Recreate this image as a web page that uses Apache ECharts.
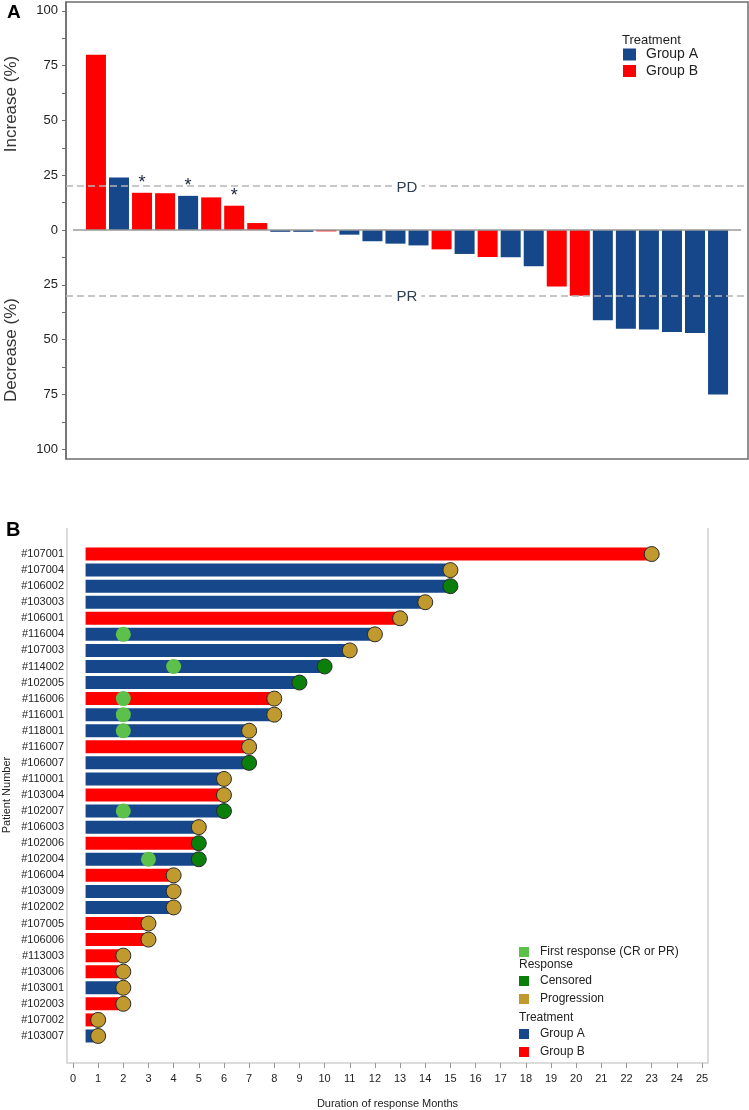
<!DOCTYPE html>
<html><head><meta charset="utf-8">
<script src="https://cdn.jsdelivr.net/npm/echarts@6/dist/echarts.min.js"></script>
<style>html,body{margin:0;padding:0;background:#fff}#c{width:749px;height:1110px}</style>
</head><body><div id="c"></div>
<script>
// ---------- Panel A: waterfall ----------
const waterfallValues = [80, 24, 17, 16.8, 15.6, 14.9, 11.1, 3.2, -0.8, -0.8, -0.6, -2.1, -5.1, -6.2, -7.0, -8.8, -10.9, -12.3, -12.4, -16.5, -25.7, -30, -41.1, -45.0, -45.3, -46.5, -46.9, -75];
const waterfallGroups = ['B','A','B','B','A','B','B','B','A','A','B','A','A','A','A','B','A','B','A','A','B','B','A','A','A','A','A','A'];
const asteriskBars = [3, 5, 7];
const pdLevel = 20;
const prLevel = -30;
const yLabelValuesA = [-100, -75, -50, -25, 0, 25, 50, 75, 100];
const yMinorTicksA = [-87.5, -62.5, -37.5, -12.5, 12.5, 37.5, 62.5, 87.5];

// ---------- Panel B: swimmer ----------
const patients = ['#107001','#107004','#106002','#103003','#106001','#116004','#107003','#114002','#102005','#116006','#116001','#118001','#116007','#106007','#110001','#103004','#102007','#106003','#102006','#102004','#106004','#103009','#102002','#107005','#106006','#113003','#103006','#103001','#102003','#107002','#103007'];
const durations = [23,15,15,14,13,12,11,10,9,8,8,7,7,7,6,6,6,5,5,5,4,4,4,3,3,2,2,2,2,1,1];
const patientGroups = ['B','A','A','A','B','A','A','A','A','B','A','A','B','A','A','B','A','A','B','A','B','A','A','B','B','B','B','A','B','B','A'];
const responses = ['P','P','C','P','P','P','P','C','C','P','P','P','P','C','P','P','C','P','C','C','P','P','P','P','P','P','P','P','P','P','P'];
const firstResponse = [null,null,null,null,null,2,null,4,null,2,2,2,null,null,null,null,2,null,null,3,null,null,null,null,null,null,null,null,null,null,null];
const barStart = 0.5;
const xTicksB = [0,1,2,3,4,5,6,7,8,9,10,11,12,13,14,15,16,17,18,19,20,21,22,23,24,25];

const BLUE = '#15478a', RED = '#ff0000';
const PROG = '#c09a2e', CENS = '#0a7f0a', FIRST = '#5cc04a';
const FONT = '"Liberation Sans", Arial, sans-serif';

function wfData(g) {
  const out = [];
  waterfallValues.forEach((v, i) => {
    if (waterfallGroups[i] !== g) return;
    const item = { value: [i + 1, v] };
    if (asteriskBars.indexOf(i + 1) >= 0) {
      item.label = { show: true, formatter: '*', position: 'top', distance: 1, fontSize: 18, color: '#16213a' };
    }
    out.push(item);
  });
  return out;
}

const chart = echarts.init(document.getElementById('c'), null, { renderer: 'canvas' });
const option = {
  animation: false,
  textStyle: { fontFamily: FONT },
  grid: [
    { left: 66, right: 1, top: 2, height: 457, show: true, borderColor: '#6e6e6e', borderWidth: 1.5, backgroundColor: 'transparent' },
    { left: 73, right: 47, top: 546, height: 498 }
  ],
  xAxis: [
    { gridIndex: 0, type: 'value', min: -0.3, max: 29.3, show: false },
    { gridIndex: 1, type: 'value', min: 0, max: 25, interval: 1, offset: 19,
      axisLine: { show: false, onZero: false },
      axisTick: { show: true, length: 5, lineStyle: { color: '#999' } },
      axisLabel: { fontSize: 11, color: '#222', margin: 10, customValues: xTicksB },
      splitLine: { show: false },
      name: 'Duration of response Months', nameLocation: 'middle', nameGap: 35,
      nameTextStyle: { fontSize: 11, color: '#222' } }
  ],
  yAxis: [
    { gridIndex: 0, type: 'value', min: -104.4, max: 104,
      axisLine: { show: true, onZero: false, lineStyle: { color: '#6e6e6e', width: 1.5 } },
      axisTick: { show: true, length: 4, customValues: yLabelValuesA.concat(yMinorTicksA), lineStyle: { color: '#6e6e6e' } },
      axisLabel: { customValues: yLabelValuesA, formatter: v => String(Math.abs(v)), fontSize: 13, color: '#222', margin: 8 },
      splitLine: { show: false } },
    { gridIndex: 1, type: 'category', data: patients, inverse: true,
      axisLine: { show: false, onZero: false }, axisTick: { show: false },
      axisLabel: { fontSize: 11, color: '#222', margin: 9 } }
  ],
  legend: [
    { data: ['Group A', 'Group B'], orient: 'vertical', left: 623, top: 47.5, padding: 0, itemWidth: 13, itemHeight: 12, itemGap: 2.5,
      icon: 'rect', selectedMode: false, textStyle: { fontSize: 14, color: '#222', padding: [0, 0, 0, 5] } },
    { data: ['First response (CR or PR)'], orient: 'vertical', left: 519, top: 946, padding: 0, itemWidth: 10, itemHeight: 10,
      icon: 'rect', selectedMode: false, itemStyle: { borderWidth: 0 }, textStyle: { fontSize: 12, color: '#222', padding: [0, 0, 0, 6] } },
    { data: ['Censored', 'Progression'], orient: 'vertical', left: 519, top: 975, padding: 0, itemWidth: 10, itemHeight: 10, itemGap: 6,
      icon: 'rect', selectedMode: false, itemStyle: { borderWidth: 0 }, textStyle: { fontSize: 12, color: '#222', padding: [0, 0, 0, 6] } },
    { data: ['Group A', 'Group B'], orient: 'vertical', left: 519, top: 1028, padding: 0, itemWidth: 10, itemHeight: 10, itemGap: 6,
      icon: 'rect', selectedMode: false, itemStyle: { borderWidth: 0 }, textStyle: { fontSize: 12, color: '#222', padding: [0, 0, 0, 6] } }
  ],
  series: [
    { name: 'Group A', type: 'bar', xAxisIndex: 0, yAxisIndex: 0, barWidth: 20, barGap: '-100%',
      itemStyle: { color: BLUE }, data: wfData('A'),
      markLine: {
        symbol: 'none', silent: true,
        lineStyle: { type: [7, 4], color: '#b5b5b5', width: 1.5 },
        label: { show: true, position: 'middle', distance: 0, offset: [0, 10], fontSize: 15, color: '#2c3e50', backgroundColor: '#fff', padding: [1, 4] },
        data: [
          [{ coord: [0, 0], lineStyle: { type: 'solid', color: '#9a9a9a', width: 1.5 }, label: { show: false } }, { coord: [29, 0] }],
          { yAxis: pdLevel, label: { formatter: 'PD' } },
          { yAxis: prLevel, label: { formatter: 'PR' } }
        ]
      } },
    { name: 'Group B', type: 'bar', xAxisIndex: 0, yAxisIndex: 0, barWidth: 20, barGap: '-100%',
      itemStyle: { color: RED }, data: wfData('B') },

    { name: 'base', type: 'bar', xAxisIndex: 1, yAxisIndex: 1, stack: 'dur', barWidth: 13, silent: true,
      itemStyle: { color: 'transparent' }, data: patients.map(() => barStart) },
    { name: 'Group A', type: 'bar', xAxisIndex: 1, yAxisIndex: 1, stack: 'dur', barWidth: 13,
      itemStyle: { color: BLUE }, data: durations.map((d, i) => patientGroups[i] === 'A' ? d - barStart : '-') },
    { name: 'Group B', type: 'bar', xAxisIndex: 1, yAxisIndex: 1, stack: 'dur', barWidth: 13,
      itemStyle: { color: RED }, data: durations.map((d, i) => patientGroups[i] === 'B' ? d - barStart : '-') },

    { name: 'First response (CR or PR)', type: 'scatter', xAxisIndex: 1, yAxisIndex: 1, symbolSize: 15, z: 4,
      itemStyle: { color: FIRST, opacity: 1 },
      data: firstResponse.map((f, i) => f === null ? null : [f, patients[i]]).filter(d => d) },
    { name: 'Censored', type: 'scatter', xAxisIndex: 1, yAxisIndex: 1, symbolSize: 15, z: 4,
      itemStyle: { color: CENS, borderColor: '#2a2a2a', borderWidth: 1, opacity: 1 },
      data: durations.map((d, i) => responses[i] === 'C' ? [d, patients[i]] : null).filter(d => d) },
    { name: 'Progression', type: 'scatter', xAxisIndex: 1, yAxisIndex: 1, symbolSize: 15, z: 4,
      itemStyle: { color: PROG, borderColor: '#2a2a2a', borderWidth: 1, opacity: 1 },
      data: durations.map((d, i) => responses[i] === 'P' ? [d, patients[i]] : null).filter(d => d) }
  ],
  graphic: [
    { type: 'text', left: 7, top: 3, style: { text: 'A', font: 'bold 19px ' + FONT, fill: '#000' } },
    { type: 'text', left: 6, top: 520, style: { text: 'B', font: 'bold 20px ' + FONT, fill: '#000' } },
    { type: 'text', x: 11, y: 104, rotation: Math.PI / 2,
      style: { text: 'Increase (%)', font: '17px ' + FONT, fill: '#333', align: 'center', verticalAlign: 'middle' } },
    { type: 'text', x: 11, y: 350, rotation: Math.PI / 2,
      style: { text: 'Decrease (%)', font: '17px ' + FONT, fill: '#333', align: 'center', verticalAlign: 'middle' } },
    { type: 'text', x: 7, y: 795, rotation: Math.PI / 2,
      style: { text: 'Patient Number', font: '11px ' + FONT, fill: '#222', align: 'center', verticalAlign: 'middle' } },
    { type: 'text', x: 622, y: 40, style: { text: 'Treatment', font: '13px ' + FONT, fill: '#222', verticalAlign: 'middle' } },
    { type: 'text', x: 519, y: 965, style: { text: 'Response', font: '12px ' + FONT, fill: '#222', verticalAlign: 'middle' } },
    { type: 'text', x: 519, y: 1018, style: { text: 'Treatment', font: '12px ' + FONT, fill: '#222', verticalAlign: 'middle' } },
    { type: 'polyline', shape: { points: [[67, 528], [67, 1063], [708, 1063], [708, 528]] },
      style: { stroke: '#cfcfcf', lineWidth: 1.5, fill: null }, z: -1 }
  ]
};
chart.setOption(option);
</script>
</body></html>
